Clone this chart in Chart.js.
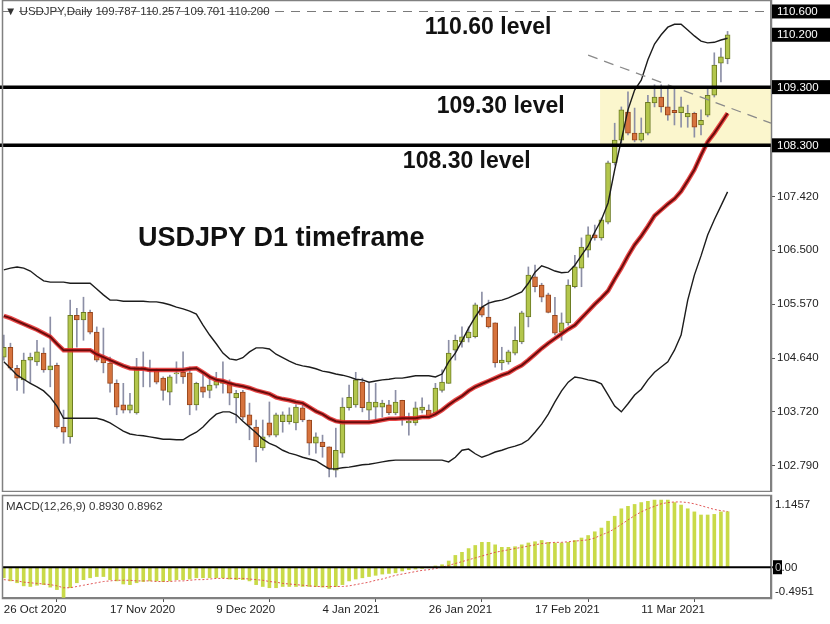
<!DOCTYPE html>
<html>
<head>
<meta charset="utf-8">
<title>USDJPY D1</title>
<script src="https://cdn.jsdelivr.net/npm/chart.js@4.4.1/dist/chart.umd.min.js"></script>
<style>
  html, body { margin: 0; padding: 0; background: #ffffff; }
  #wrap { position: relative; width: 830px; height: 624px; overflow: hidden; }
  #main { position: absolute; left: 0; top: 0; }
  #macd { position: absolute; left: 0; top: 492px; }
</style>
</head>
<body>
<div id="wrap">
  <canvas id="main" width="830" height="492"></canvas>
  <canvas id="macd" width="830" height="132"></canvas>
</div>
<script>
Chart.defaults.font.family = '"Liberation Sans", Arial, sans-serif'
Chart.defaults.font.size = 11.5
Chart.defaults.color = "#222"

// daily candles, 26 Oct 2020 .. 30 Mar 2021
const open = [104.66, 104.83, 104.47, 104.27, 104.61, 104.58, 104.73, 104.44, 104.52, 103.46,
  103.29, 105.38, 105.30, 105.43, 105.09, 104.66, 104.56, 104.21, 103.84, 103.75,
  103.70, 104.49, 104.44, 104.44, 104.30, 104.06, 104.37, 104.40, 104.39, 103.84,
  104.15, 104.09, 104.18, 104.21, 104.23, 103.96, 104.06, 103.67, 103.46, 103.10,
  103.53, 103.32, 103.55, 103.55, 103.53, 103.79, 103.58, 103.18, 103.20, 103.12,
  102.72, 103.01, 103.79, 103.84, 104.23, 103.75, 103.80, 103.80, 103.84, 103.70,
  103.92, 103.53, 103.53, 103.75, 103.75, 103.70, 104.09, 104.21, 104.78, 104.92,
  104.99, 105.01, 105.52, 105.35, 105.25, 104.56, 104.58, 104.73, 104.92, 105.35,
  106.04, 105.90, 105.73, 105.38, 105.09, 105.25, 105.87, 106.19, 106.50, 106.76,
  106.71, 106.98, 108.00, 108.39, 108.87, 108.51, 108.39, 108.51, 109.03, 109.13,
  108.96, 108.90, 108.86, 108.79, 108.85, 108.65, 108.82, 109.16, 109.71, 109.787]
const high = [105.04, 104.90, 104.52, 104.73, 104.73, 104.95, 104.82, 105.35, 104.56, 103.75,
  105.64, 105.50, 105.69, 105.47, 105.18, 105.16, 104.66, 104.27, 104.21, 104.04,
  104.64, 104.75, 104.61, 104.46, 104.32, 104.35, 104.58, 104.75, 104.49, 104.23,
  104.39, 104.30, 104.40, 104.58, 104.27, 104.09, 104.09, 103.87, 103.58, 103.58,
  103.89, 103.70, 103.72, 103.79, 103.84, 103.84, 103.58, 103.36, 103.32, 103.12,
  103.44, 103.96, 104.18, 104.40, 104.30, 104.21, 104.21, 103.92, 103.92, 104.09,
  103.92, 103.70, 103.89, 103.96, 103.84, 104.21, 104.44, 104.95, 105.04, 105.18,
  105.18, 105.59, 105.78, 105.64, 105.25, 104.83, 104.78, 105.18, 105.45, 106.21,
  106.24, 105.93, 105.76, 105.69, 105.42, 105.99, 106.41, 106.71, 106.90, 106.93,
  107.05, 108.03, 108.68, 108.96, 109.22, 108.94, 108.77, 109.16, 109.34, 109.34,
  109.28, 109.30, 109.13, 108.99, 108.87, 108.91, 109.30, 109.89, 109.97, 110.257]
const low = [104.61, 104.44, 104.09, 104.04, 104.21, 104.52, 104.40, 104.15, 103.44, 103.18,
  103.18, 104.83, 104.95, 105.06, 104.58, 104.39, 104.06, 103.67, 103.70, 103.70,
  103.68, 104.15, 104.15, 104.20, 103.92, 103.84, 104.21, 104.21, 103.67, 103.75,
  103.97, 103.96, 104.13, 104.04, 103.84, 103.53, 103.58, 103.24, 102.86, 103.06,
  103.29, 103.29, 103.37, 103.51, 103.41, 103.55, 102.98, 103.01, 102.94, 102.60,
  102.60, 102.94, 103.75, 103.80, 103.72, 103.58, 103.58, 103.63, 103.67, 103.67,
  103.49, 103.32, 103.49, 103.70, 103.63, 103.67, 104.06, 104.21, 104.61, 104.83,
  104.92, 104.99, 105.35, 105.16, 104.49, 104.44, 104.54, 104.70, 104.89, 105.18,
  105.78, 105.61, 105.42, 105.04, 104.95, 105.21, 105.85, 105.87, 106.38, 106.67,
  106.67, 106.95, 107.96, 108.34, 108.48, 108.36, 108.36, 108.48, 108.96, 108.87,
  108.73, 108.65, 108.61, 108.61, 108.44, 108.48, 108.79, 109.13, 109.39, 109.701]
const close = [104.83, 104.47, 104.30, 104.61, 104.66, 104.75, 104.44, 104.51, 103.46, 103.37,
  105.38, 105.30, 105.43, 105.09, 104.61, 104.56, 104.21, 103.80, 103.75, 103.84,
  104.49, 104.44, 104.42, 104.23, 104.09, 104.32, 104.39, 104.32, 103.84, 104.21,
  104.06, 104.18, 104.25, 104.25, 104.04, 104.04, 103.63, 103.49, 103.12, 103.29,
  103.32, 103.67, 103.67, 103.67, 103.80, 103.58, 103.18, 103.29, 103.12, 102.75,
  103.06, 103.80, 103.97, 104.27, 103.79, 103.89, 103.89, 103.87, 103.70, 103.89,
  103.58, 103.56, 103.79, 103.80, 103.63, 104.13, 104.23, 104.73, 104.95, 105.01,
  105.09, 105.56, 105.38, 105.18, 104.56, 104.61, 104.75, 104.95, 105.42, 106.07,
  105.87, 105.69, 105.43, 105.07, 105.25, 105.90, 106.21, 106.55, 106.76, 106.71,
  107.02, 108.00, 108.39, 108.91, 108.51, 108.39, 108.51, 109.04, 109.13, 108.96,
  108.82, 108.86, 108.96, 108.85, 108.61, 108.73, 109.16, 109.68, 109.82, 110.200]

// Bollinger bands (20)
const bbUpper = [106.16, 106.19, 106.21, 106.19, 106.14, 106.05, 105.97, 105.95, 105.95, 105.95,
  105.93, 105.93, 105.93, 105.93, 105.83, 105.73, 105.64, 105.64, 105.62, 105.62,
  105.62, 105.62, 105.61, 105.61, 105.59, 105.56, 105.52, 105.49, 105.45, 105.40,
  105.21, 105.04, 104.89, 104.73, 104.63, 104.61, 104.65, 104.75, 104.82, 104.82,
  104.80, 104.71, 104.65, 104.59, 104.54, 104.51, 104.49, 104.46, 104.42, 104.40,
  104.37, 104.35, 104.32, 104.28, 104.27, 104.23, 104.25, 104.27, 104.28, 104.30,
  104.30, 104.32, 104.34, 104.34, 104.34, 104.32, 104.37, 104.58, 104.73, 104.94,
  105.16, 105.35, 105.52, 105.59, 105.62, 105.64, 105.68, 105.73, 105.78, 105.93,
  106.12, 106.23, 106.19, 106.14, 106.11, 106.12, 106.24, 106.41, 106.57, 106.81,
  107.02, 107.31, 107.88, 108.39, 108.91, 109.25, 109.42, 109.77, 110.04, 110.20,
  110.33, 110.38, 110.38, 110.28, 110.18, 110.09, 110.06, 110.07, 110.11, 110.14]
const bbMiddle = [105.37, 105.33, 105.28, 105.23, 105.18, 105.13, 105.07, 105.01, 104.89, 104.78,
  104.78, 104.78, 104.78, 104.78, 104.71, 104.66, 104.61, 104.56, 104.51, 104.47,
  104.46, 104.46, 104.44, 104.44, 104.44, 104.44, 104.44, 104.44, 104.46, 104.47,
  104.40, 104.32, 104.27, 104.25, 104.21, 104.18, 104.16, 104.13, 104.09, 104.06,
  104.03, 103.97, 103.94, 103.92, 103.89, 103.87, 103.80, 103.73, 103.68, 103.61,
  103.56, 103.54, 103.54, 103.54, 103.54, 103.54, 103.56, 103.58, 103.60, 103.60,
  103.61, 103.61, 103.61, 103.63, 103.63, 103.68, 103.75, 103.84, 103.92, 103.99,
  104.08, 104.15, 104.20, 104.25, 104.30, 104.35, 104.39, 104.46, 104.52, 104.61,
  104.71, 104.81, 104.90, 104.98, 105.06, 105.14, 105.21, 105.33, 105.45, 105.57,
  105.68, 105.80, 106.00, 106.19, 106.40, 106.59, 106.74, 106.91, 107.09, 107.19,
  107.29, 107.38, 107.51, 107.69, 107.88, 108.13, 108.36, 108.51, 108.68, 108.85]
const bbLower = [104.58, 104.47, 104.35, 104.28, 104.21, 104.15, 104.08, 103.97, 103.82, 103.61,
  103.61, 103.61, 103.61, 103.61, 103.61, 103.58, 103.53, 103.46, 103.39, 103.34,
  103.32, 103.31, 103.29, 103.27, 103.25, 103.25, 103.24, 103.24, 103.31, 103.37,
  103.46, 103.58, 103.68, 103.72, 103.72, 103.67, 103.56, 103.46, 103.36, 103.25,
  103.18, 103.13, 103.06, 103.01, 102.98, 102.94, 102.91, 102.88, 102.81, 102.74,
  102.74, 102.76, 102.77, 102.79, 102.81, 102.82, 102.84, 102.86, 102.88, 102.89,
  102.89, 102.89, 102.89, 102.89, 102.89, 102.89, 102.89, 102.86, 102.94, 103.06,
  103.08, 103.00, 102.94, 102.98, 103.03, 103.06, 103.10, 103.13, 103.17, 103.24,
  103.37, 103.51, 103.68, 103.89, 104.08, 104.23, 104.32, 104.30, 104.27, 104.25,
  104.20, 104.01, 103.82, 103.72, 103.86, 104.01, 104.11, 104.27, 104.40, 104.49,
  104.58, 104.78, 105.04, 105.64, 106.07, 106.40, 106.76, 107.02, 107.26, 107.50]

// MACD(12,26,9): main histogram and signal
const macdMain = [-0.17, -0.22, -0.25, -0.30, -0.31, -0.29, -0.28, -0.32, -0.36, -0.495,
  -0.33, -0.25, -0.20, -0.17, -0.15, -0.15, -0.20, -0.22, -0.27, -0.28,
  -0.25, -0.23, -0.22, -0.22, -0.23, -0.22, -0.20, -0.20, -0.19, -0.17,
  -0.17, -0.17, -0.17, -0.17, -0.19, -0.20, -0.20, -0.22, -0.28, -0.31,
  -0.33, -0.33, -0.31, -0.31, -0.31, -0.31, -0.31, -0.31, -0.32, -0.34,
  -0.31, -0.28, -0.22, -0.19, -0.17, -0.15, -0.13, -0.11, -0.10, -0.09,
  -0.06, -0.04, -0.03, -0.02, -0.01, 0.02, 0.04, 0.10, 0.19, 0.24,
  0.30, 0.35, 0.40, 0.40, 0.36, 0.32, 0.32, 0.33, 0.36, 0.39,
  0.41, 0.43, 0.40, 0.39, 0.39, 0.40, 0.43, 0.47, 0.51, 0.57,
  0.63, 0.74, 0.82, 0.94, 0.98, 1.01, 1.04, 1.06, 1.08, 1.08,
  1.08, 1.04, 1.00, 0.94, 0.89, 0.84, 0.84, 0.85, 0.89, 0.8930]
const macdSignal = [-0.20, -0.21, -0.22, -0.24, -0.25, -0.26, -0.27, -0.28, -0.30, -0.33,
  -0.33, -0.31, -0.29, -0.27, -0.25, -0.23, -0.22, -0.21, -0.21, -0.21,
  -0.22, -0.22, -0.22, -0.23, -0.23, -0.23, -0.22, -0.22, -0.21, -0.20,
  -0.20, -0.19, -0.18, -0.18, -0.18, -0.18, -0.18, -0.19, -0.20, -0.21,
  -0.23, -0.24, -0.26, -0.27, -0.28, -0.29, -0.30, -0.31, -0.31, -0.31,
  -0.31, -0.31, -0.30, -0.28, -0.26, -0.24, -0.21, -0.19, -0.16, -0.13,
  -0.11, -0.09, -0.07, -0.05, -0.04, -0.02, 0.00, 0.03, 0.06, 0.09,
  0.12, 0.15, 0.18, 0.21, 0.24, 0.26, 0.28, 0.30, 0.32, 0.34,
  0.36, 0.38, 0.39, 0.40, 0.40, 0.41, 0.42, 0.43, 0.44, 0.47,
  0.52, 0.56, 0.62, 0.69, 0.76, 0.83, 0.89, 0.94, 0.98, 1.02,
  1.04, 1.05, 1.05, 1.04, 1.02, 0.99, 0.96, 0.93, 0.91, 0.8962]

const dateTickBars = [0, 16, 32, 48, 64, 80, 96]
const dateTickLabels = ["26 Oct 2020", "17 Nov 2020", "9 Dec 2020", "4 Jan 2021",
  "26 Jan 2021", "17 Feb 2021", "11 Mar 2021"]
const priceTicks = [107.42, 106.5, 105.57, 104.64, 103.72, 102.79]
const levelPrices = [110.6, 109.3, 108.3]
const macdLabels = [1.1457, 0, -0.4951]

// layout helpers
const xMin = -0.12
const xMax = 115.54
const axisWidth = 59
const frameColor = "#808080"
const smallFont = '11.5px "Liberation Sans", Arial, sans-serif'

const bullFill = "#b3c64c"
const bullLine = "#6b7a22"
const bearFill = "#d6733d"
const bearLine = "#96451c"
const wickColor = "#8c8fa6"

const notes = [
  { text: "110.60 level", bar: 63.4, price: 110.21, size: 23 },
  { text: "109.30 level", bar: 65.2, price: 108.85, size: 23 },
  { text: "108.30 level", bar: 60.1, price: 107.91, size: 23 },
  { text: "USDJPY D1 timeframe", bar: 20.2, price: 106.57, size: 27 },
]
const zoneStartBar = 89.8
const trend = { from: [88.0, 109.85], to: [xMax, 108.68] }

const last = close.length - 1

function pts(arr) {
  return arr.map((v, i) => ({ x: i, y: v }))
}

function noPadding(s) {
  s.paddingTop = 0
  s.paddingBottom = 0
  s.paddingLeft = 0
  s.paddingRight = 0
}

const mainDecor = {
  id: "mainDecor",
  beforeDatasetsDraw(chart) {
    const { ctx, chartArea: a, scales: { x, y } } = chart
    const zx = x.getPixelForValue(zoneStartBar)
    const t = y.getPixelForValue(levelPrices[1])
    const b = y.getPixelForValue(levelPrices[2])
    ctx.save()
    ctx.fillStyle = "#fbf6cd"
    ctx.fillRect(zx, t, a.right - zx, b - t)
    ctx.restore()
  },
  afterDatasetsDraw(chart) {
    const { ctx, chartArea: a, scales: { x, y } } = chart
    ctx.save()
    // dashed 110.60 line
    ctx.strokeStyle = "#7a7a7a"
    ctx.lineWidth = 1.2
    ctx.setLineDash([9, 7])
    let yy = Math.round(y.getPixelForValue(levelPrices[0])) + 0.5
    ctx.beginPath()
    ctx.moveTo(a.left, yy)
    ctx.lineTo(a.right, yy)
    ctx.stroke()
    // falling trend line
    ctx.strokeStyle = "#8a8a8a"
    ctx.lineWidth = 1.3
    ctx.setLineDash([10, 7])
    ctx.beginPath()
    ctx.moveTo(x.getPixelForValue(trend.from[0]), y.getPixelForValue(trend.from[1]))
    ctx.lineTo(x.getPixelForValue(trend.to[0]), y.getPixelForValue(trend.to[1]))
    ctx.stroke()
    ctx.setLineDash([])
    // support / resistance lines
    ctx.strokeStyle = "#000"
    ctx.lineWidth = 3.5
    levelPrices.slice(1).forEach((p) => {
      const ly = y.getPixelForValue(p)
      ctx.beginPath()
      ctx.moveTo(a.left - 3, ly)
      ctx.lineTo(a.right, ly)
      ctx.stroke()
    })
    ctx.restore()
  },
  afterDraw(chart) {
    const { ctx, chartArea: a, scales: { x, y } } = chart
    ctx.save()
    ctx.strokeStyle = frameColor
    ctx.lineWidth = 1.5
    ctx.strokeRect(a.left - 0.5, a.top - 0.5, a.right - a.left + 1, a.bottom - a.top + 1)

    // header
    ctx.font = smallFont
    ctx.fillStyle = "#333"
    ctx.textBaseline = "middle"
    ctx.fillText("\u25BC USDJPY,Daily " + open[last].toFixed(3) + " " + high[last].toFixed(3) +
      " " + low[last].toFixed(3) + " " + close[last].toFixed(3), 5, 12)

    // price boxes on the axis
    const boxes = [levelPrices[0], close[last], levelPrices[1], levelPrices[2]]
    boxes.forEach((p) => {
      const by = y.getPixelForValue(p)
      ctx.fillStyle = "#000"
      ctx.fillRect(a.right + 1, by - 7, chart.width - a.right - 1, 14)
      ctx.fillStyle = "#fff"
      ctx.fillText(p.toFixed(3), a.right + 6, by + 0.5)
    })

    // notes
    ctx.fillStyle = "#111"
    ctx.textBaseline = "alphabetic"
    notes.forEach((n) => {
      ctx.font = "bold " + n.size + 'px "Liberation Sans", Arial, sans-serif'
      ctx.fillText(n.text, x.getPixelForValue(n.bar), y.getPixelForValue(n.price))
    })
    ctx.restore()
  },
}

const macdDecor = {
  id: "macdDecor",
  afterDatasetsDraw(chart) {
    const { ctx, chartArea: a, scales: { y } } = chart
    const y0 = y.getPixelForValue(0)
    ctx.save()
    ctx.strokeStyle = "#000"
    ctx.lineWidth = 2
    ctx.beginPath()
    ctx.moveTo(a.left, y0)
    ctx.lineTo(a.right + 2, y0)
    ctx.stroke()
    ctx.restore()
  },
  afterDraw(chart) {
    const { ctx, chartArea: a, scales: { y } } = chart
    ctx.save()
    ctx.strokeStyle = frameColor
    ctx.lineWidth = 1.5
    ctx.strokeRect(a.left - 0.5, a.top - 0.5, a.right - a.left + 1, a.bottom - a.top + 1)

    ctx.font = smallFont
    ctx.fillStyle = "#333"
    ctx.textBaseline = "middle"
    ctx.fillText("MACD(12,26,9) " + macdMain[last].toFixed(4) + " " + macdSignal[last].toFixed(4),
      a.left + 3, a.top + 11)

    const lx = a.right + 4
    ctx.fillStyle = "#222"
    ctx.fillText(macdLabels[0].toFixed(4), lx, a.top + 9)
    ctx.fillText(macdLabels[2].toFixed(4), lx, a.bottom - 6)
    const y0 = y.getPixelForValue(macdLabels[1])
    ctx.fillText(macdLabels[1].toFixed(2), lx, y0 + 0.5)
    ctx.fillStyle = "#000"
    ctx.fillRect(a.right + 2, y0 - 7, 9, 14)
    ctx.fillStyle = "#bbb"
    ctx.fillText("0", lx, y0 + 0.5)
    ctx.restore()
  },
}

new Chart(document.getElementById("main"), {
  type: "bar",
  data: {
    datasets: [
      {
        type: "line",
        data: pts(bbMiddle),
        borderColor: "#6a0b0b",
        borderWidth: 2,
        pointRadius: 0,
        order: 0,
      },
      {
        type: "line",
        data: pts(bbMiddle),
        borderColor: "rgba(228, 40, 40, 0.85)",
        borderWidth: 4.5,
        pointRadius: 0,
        order: 1,
      },
      {
        type: "line",
        data: pts(bbUpper),
        borderColor: "#1c1c1c",
        borderWidth: 1.4,
        pointRadius: 0,
        order: 2,
      },
      {
        type: "line",
        data: pts(bbLower),
        borderColor: "#1c1c1c",
        borderWidth: 1.4,
        pointRadius: 0,
        order: 2,
      },
      {
        data: open.map((o, i) => ({ x: i, y: [o, close[i]] })),
        backgroundColor: open.map((o, i) => (close[i] >= o ? bullFill : bearFill)),
        borderColor: open.map((o, i) => (close[i] >= o ? bullLine : bearLine)),
        borderWidth: 1,
        borderSkipped: false,
        barThickness: 5,
        minBarLength: 1,
        grouped: false,
        order: 3,
      },
      {
        data: low.map((l, i) => ({ x: i, y: [l, high[i]] })),
        backgroundColor: wickColor,
        barThickness: 1,
        grouped: false,
        order: 4,
      },
    ],
  },
  options: {
    responsive: false,
    animation: false,
    events: [],
    layout: { padding: { left: 3, top: 1, right: 0, bottom: 1 } },
    plugins: { legend: { display: false }, tooltip: { enabled: false } },
    scales: {
      x: { type: "linear", min: xMin, max: xMax, offset: false, display: false },
      y: {
        position: "right",
        min: 102.36,
        max: 110.78,
        afterBuildTicks: (s) => {
          s.ticks = priceTicks.map((v) => ({ value: v }))
        },
        afterFit: (s) => {
          s.width = axisWidth
          noPadding(s)
        },
        ticks: { padding: 2, color: "#222", callback: (v) => Number(v).toFixed(3) },
        grid: { drawOnChartArea: false, tickLength: 4, color: "#555" },
        border: { color: frameColor, width: 1.5 },
      },
    },
  },
  plugins: [mainDecor],
})

new Chart(document.getElementById("macd"), {
  type: "bar",
  data: {
    datasets: [
      {
        type: "line",
        data: pts(macdSignal),
        borderColor: "rgba(222, 70, 70, 0.9)",
        borderWidth: 1,
        borderDash: [2, 2],
        pointRadius: 0,
        order: 0,
      },
      {
        data: pts(macdMain),
        backgroundColor: "#c9da48",
        barThickness: 3,
        grouped: false,
        order: 1,
      },
    ],
  },
  options: {
    responsive: false,
    animation: false,
    events: [],
    layout: { padding: { left: 3, top: 4, right: 0, bottom: 0 } },
    plugins: { legend: { display: false }, tooltip: { enabled: false } },
    scales: {
      x: {
        type: "linear",
        min: xMin,
        max: xMax,
        offset: false,
        position: "bottom",
        afterBuildTicks: (s) => {
          s.ticks = dateTickBars.map((v) => ({ value: v }))
        },
        afterFit: (s) => {
          s.height = 26
          noPadding(s)
        },
        ticks: {
          autoSkip: false,
          maxRotation: 0,
          align: "start",
          padding: 1,
          color: "#222",
          callback: (v) => dateTickLabels[dateTickBars.indexOf(v)],
        },
        grid: { drawOnChartArea: false, tickLength: 4, color: "#555" },
        border: { color: frameColor, width: 1.5 },
      },
      y: {
        position: "right",
        min: macdLabels[2],
        max: macdLabels[0],
        afterFit: (s) => {
          s.width = axisWidth
          noPadding(s)
        },
        ticks: { display: false },
        grid: { display: false },
        border: { color: frameColor, width: 1.5 },
      },
    },
  },
  plugins: [macdDecor],
})
</script>
</body>
</html>
